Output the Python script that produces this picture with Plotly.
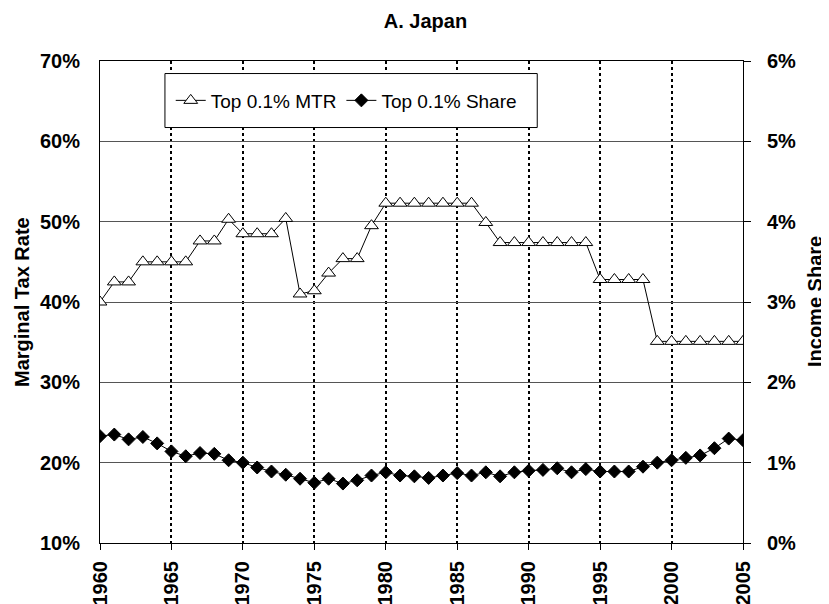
import plotly.graph_objects as go

years = list(range(1960, 2006))
mtr = [40.0, 42.5, 42.5, 45.0, 45.0, 45.0, 45.0, 47.6, 47.6, 50.3,
       48.5, 48.5, 48.5, 50.4, 41.0, 41.4, 43.6, 45.4, 45.4, 49.5,
       52.3, 52.3, 52.3, 52.3, 52.3, 52.3, 52.3, 49.9, 47.4, 47.4,
       47.4, 47.4, 47.4, 47.4, 47.4, 42.8, 42.8, 42.8, 42.8, 35.1,
       35.1, 35.1, 35.1, 35.1, 35.1, 35.1]
share = [1.33, 1.35, 1.29, 1.32, 1.24, 1.14, 1.08, 1.12, 1.11, 1.03,
         1.00, 0.94, 0.89, 0.85, 0.80, 0.75, 0.80, 0.74, 0.78, 0.84,
         0.88, 0.84, 0.83, 0.81, 0.84, 0.87, 0.84, 0.88, 0.83, 0.88,
         0.90, 0.91, 0.93, 0.88, 0.92, 0.89, 0.89, 0.89, 0.95, 1.00,
         1.03, 1.06, 1.09, 1.18, 1.30, 1.28]

FONT = "Arial, Liberation Sans, sans-serif"
TICK = dict(size=20, weight="bold")

# page has an 8px body margin: figure is sized/offset to compensate
W, H = 821, 596

fig = go.Figure()
fig.add_trace(go.Scatter(
    x=years, y=mtr, name="Top 0.1% MTR", mode="lines+markers",
    line=dict(color="black", width=1),
    marker=dict(symbol="triangle-up", size=12, color="white",
                line=dict(color="black", width=1)),
))
fig.add_trace(go.Scatter(
    x=years, y=share, name="Top 0.1% Share", mode="lines+markers", yaxis="y2",
    line=dict(color="black", width=1),
    marker=dict(symbol="diamond", size=10, color="black",
                line=dict(color="black", width=1)),
))

# legend box
fig.add_shape(type="rect", xref="paper", yref="paper",
              x0=0.101, x1=0.68, y0=0.862, y1=0.974,
              line=dict(color="black", width=1), fillcolor="white", layer="above")

fig.update_layout(
    width=W, height=H,
    margin=dict(l=92, r=86, t=53, b=61, autoexpand=False),
    paper_bgcolor="white", plot_bgcolor="white",
    font=dict(family=FONT, color="black"),
    title=dict(text="<b>A. Japan</b>", x=0.5085, xanchor="center",
               y=1 - 13 / H, yanchor="middle", font=dict(size=20)),
    showlegend=True,
    legend=dict(orientation="h", x=0.11, y=0.918, xanchor="left", yanchor="middle",
                bgcolor="rgba(0,0,0,0)", borderwidth=0,
                font=dict(size=19), itemwidth=30),
    xaxis=dict(range=[1960, 2005], tickmode="linear", tick0=1960, dtick=5,
               showgrid=True, gridcolor="black", gridwidth=2, griddash="3px,3px",
               showline=True, linecolor="black", linewidth=1, mirror=True,
               ticks="outside", ticklen=6, tickcolor="black", ticklabelstandoff=3,
               tickangle=-90, tickfont=TICK, automargin=False,
               zeroline=False),
    yaxis=dict(range=[10, 70], tickmode="linear", tick0=10, dtick=10,
               ticksuffix="%", showgrid=True, gridcolor="#555555", gridwidth=1,
               showline=True, linecolor="black", linewidth=1,
               ticks="", ticklabelstandoff=15, automargin=False,
               tickfont=TICK, zeroline=False),
    yaxis2=dict(range=[0, 6], tickmode="linear", tick0=0, dtick=1,
                ticksuffix="%", overlaying="y", side="right", showgrid=False,
                showline=True, linecolor="black", linewidth=1,
                ticks="outside", ticklen=7, tickcolor="black", ticklabelstandoff=12,
                tickfont=TICK, automargin=False, zeroline=False),
    annotations=[
        dict(text="<b>Marginal Tax Rate</b>", xref="paper", yref="paper",
             x=0, y=0.5, xshift=-78, textangle=-90, showarrow=False,
             xanchor="center", yanchor="middle", font=dict(size=20)),
        dict(text="<b>Income Share</b>", xref="paper", yref="paper",
             x=1, y=0.5, xshift=72, textangle=-90, showarrow=False,
             xanchor="center", yanchor="middle", font=dict(size=20)),
    ],
)

fig.write_html("out.html")
